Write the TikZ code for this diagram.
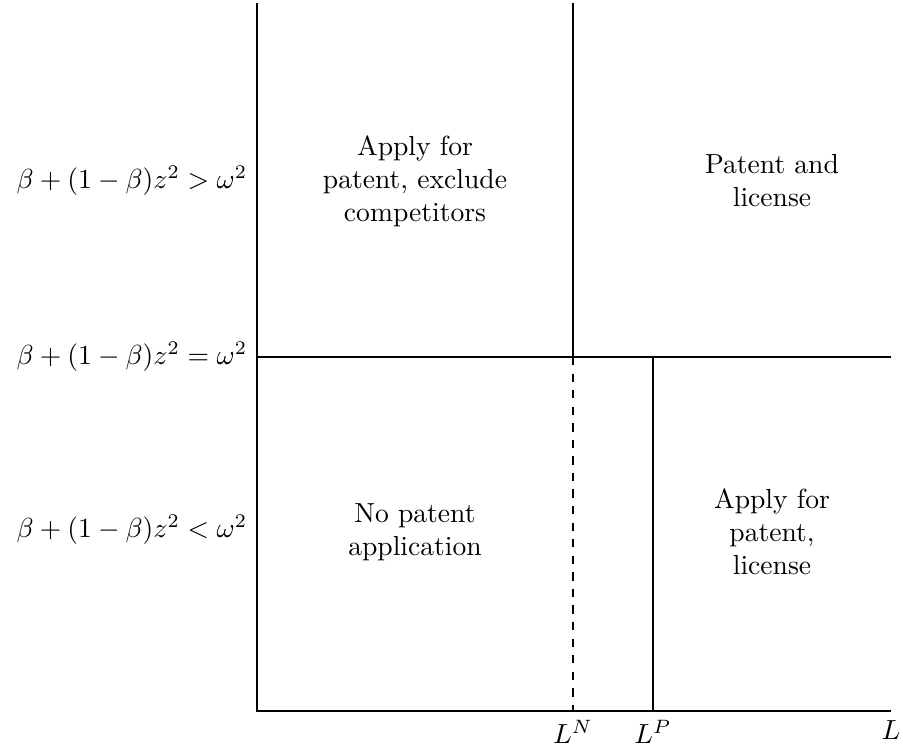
\documentclass[tikz,border=0pt]{standalone}
\begin{document}
\begin{tikzpicture}[x=0.3623pt,y=-0.3623pt,
  region/.style={align=center},
  cond/.style={anchor=east},
  tick/.style={anchor=north}]
\useasboundingbox (0,0) rectangle (903,755);
\coordinate (T) at (257,3);
\coordinate (O) at (257,711);
\coordinate (E) at (891,711);
\coordinate (ML) at (257,357);
\coordinate (MR) at (891,357);
\coordinate (NT) at (573,3);
\coordinate (NM) at (573,357);
\coordinate (NB) at (573,711);
\coordinate (PM) at (653,357);
\coordinate (PB) at (653,711);
\draw (T) -- (O) -- (E);
\draw (ML) -- (MR);
\draw (NT) -- (NM);
\draw[dashed] (NM) -- (NB);
\draw (PM) -- (PB);
\node[cond] (cgt) at (257,181) {$\beta+(1-\beta)z^2>\omega^2$};
\node[cond] (ceq) at (ML) {$\beta+(1-\beta)z^2=\omega^2$};
\node[cond] (clt) at (257,530) {$\beta+(1-\beta)z^2<\omega^2$};
\node[region] (r1) at (415,181) {Apply for\\patent, exclude\\competitors};
\node[region] (r2) at (772,181) {Patent and\\license};
\node[region] (r3) at (415,532) {No patent\\application};
\node[region] (r4) at (772,532) {Apply for\\patent,\\license};
\node[tick] (lN) at (NB) {$L^N$};
\node[tick] (lP) at (PB) {$L^P$};
\node[tick] (lL) at (E) {$L$};
\end{tikzpicture}
\end{document}
